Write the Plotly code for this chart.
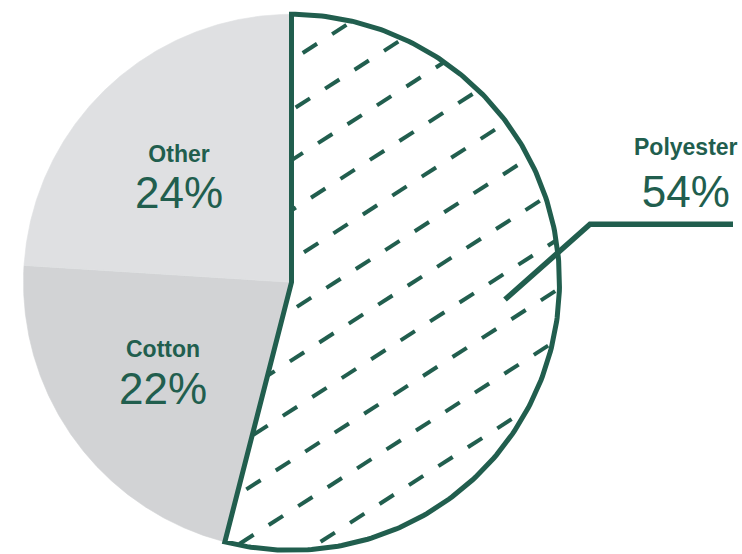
import numpy as np
import plotly.graph_objects as go

# ---- data ----
labels = ["Polyester", "Cotton", "Other"]
values = [54, 22, 24]
pct_text = ["54%", "22%", "24%"]

# ---- styles / layout constants ----
GREEN = "#215e4e"
slice_colors = ["#ffffff", "#d2d3d5", "#dfe0e2"]
W, H = 742, 554
CX, CY, R = 291.5, 282.3, 268.0
FONT = "Liberation Sans, Arial, Helvetica, sans-serif"

# label block placement (pixel units of the axes) and line spacing base size
label_pos = {"Polyester": (686, 175.3), "Cotton": (163, 374.8), "Other": (178.5, 179.3)}
label_base = {"Polyester": 40, "Cotton": 36.4, "Other": 35}
leader = dict(start=(505, 299.5), elbow=(590, 224.3), end=(733, 224.3))

# hatch pattern parameters
HATCH_ANGLE = 32.7
SPACING = 42.1
OFFSET0 = 0.56
DASH = 17.0
PERIOD = 35.0
PHASE = 26.3

fig = go.Figure()
total = float(sum(values))


def arc_pts(a0, a1, n=240):
    th = np.radians(np.linspace(a0, a1, n))
    return CX + R * np.sin(th), CY - R * np.cos(th)


def inside(px, py, a0, a1):
    dx = px - CX
    dy = py - CY
    rr = np.hypot(dx, dy)
    ang = np.degrees(np.arctan2(dx, -dy)) % 360
    return (rr <= R) & (ang >= a0) & (ang <= a1)


start = 0.0
bounds = {}
for lab, v, col in zip(labels, values, slice_colors):
    a0, a1 = start, start + 360.0 * v / total
    bounds[lab] = (a0, a1)
    ax, ay = arc_pts(a0, a1)
    xs = [CX] + list(ax) + [CX]
    ys = [CY] + list(ay) + [CY]
    fig.add_trace(go.Scatter(x=xs, y=ys, fill="toself", fillcolor=col, mode="lines",
                             line=dict(width=0.6, color=col), hoverinfo="skip",
                             showlegend=False))
    start = a1

# ---- hatch on Polyester ----
pa0, pa1 = bounds["Polyester"]
t = np.radians(HATCH_ANGLE)
d = (np.cos(t), -np.sin(t))
nrm = (np.sin(t), np.cos(t))
hx, hy = [], []
for k in range(-10, 11):
    o = SPACING * (k + OFFSET0)
    if abs(o) >= R:
        continue
    ph = PHASE - 0.4 * k
    smax = np.sqrt(R * R - o * o)
    m0 = int(np.floor((-smax - ph) / PERIOD)) - 1
    m1 = int(np.ceil((smax - ph) / PERIOD)) + 1
    for m in range(m0, m1 + 1):
        s0 = ph + m * PERIOD
        ss = np.linspace(s0, s0 + DASH, 80)
        px = CX + o * nrm[0] + ss * d[0]
        py = CY + o * nrm[1] + ss * d[1]
        mask = inside(px, py, pa0, pa1)
        i = 0
        while i < len(mask):
            if mask[i]:
                j = i
                while j + 1 < len(mask) and mask[j + 1]:
                    j += 1
                if j > i:
                    hx += [px[i], px[j], None]
                    hy += [py[i], py[j], None]
                i = j + 1
            else:
                i += 1

fig.add_trace(go.Scatter(x=hx, y=hy, mode="lines", line=dict(color=GREEN, width=4),
                         hoverinfo="skip", showlegend=False))

# ---- outline of Polyester ----
ax, ay = arc_pts(pa0, pa1)
ox = [CX] + list(ax) + [CX, ax[0]]
oy = [CY] + list(ay) + [CY, ay[0]]
fig.add_trace(go.Scatter(x=ox, y=oy, mode="lines", line=dict(color=GREEN, width=5),
                         hoverinfo="skip", showlegend=False))

# ---- leader line ----
lx = [leader["start"][0], leader["elbow"][0], leader["end"][0]]
ly = [leader["start"][1], leader["elbow"][1], leader["end"][1]]
fig.add_trace(go.Scatter(x=lx, y=ly, mode="lines", line=dict(color=GREEN, width=5.5),
                         hoverinfo="skip", showlegend=False))

# ---- labels ----
for lab, pt in zip(labels, pct_text):
    x0, y0 = label_pos[lab]
    txt = ("<span style='font-size:23px'><b>%s</b></span><br>"
           "<span style='font-size:44px'>%s</span>" % (lab, pt))
    fig.add_annotation(x=x0, y=y0, xref="x", yref="y", text=txt,
                       showarrow=False, xanchor="center", yanchor="middle", align="center",
                       font=dict(family=FONT, size=label_base[lab], color=GREEN))

fig.update_layout(
    width=W, height=H,
    margin=dict(l=0, r=0, t=0, b=0),
    paper_bgcolor="white", plot_bgcolor="white",
    xaxis=dict(range=[0, W], visible=False, fixedrange=True),
    yaxis=dict(range=[H, 0], visible=False, fixedrange=True),
    showlegend=False,
)

fig.write_html("out.html")
